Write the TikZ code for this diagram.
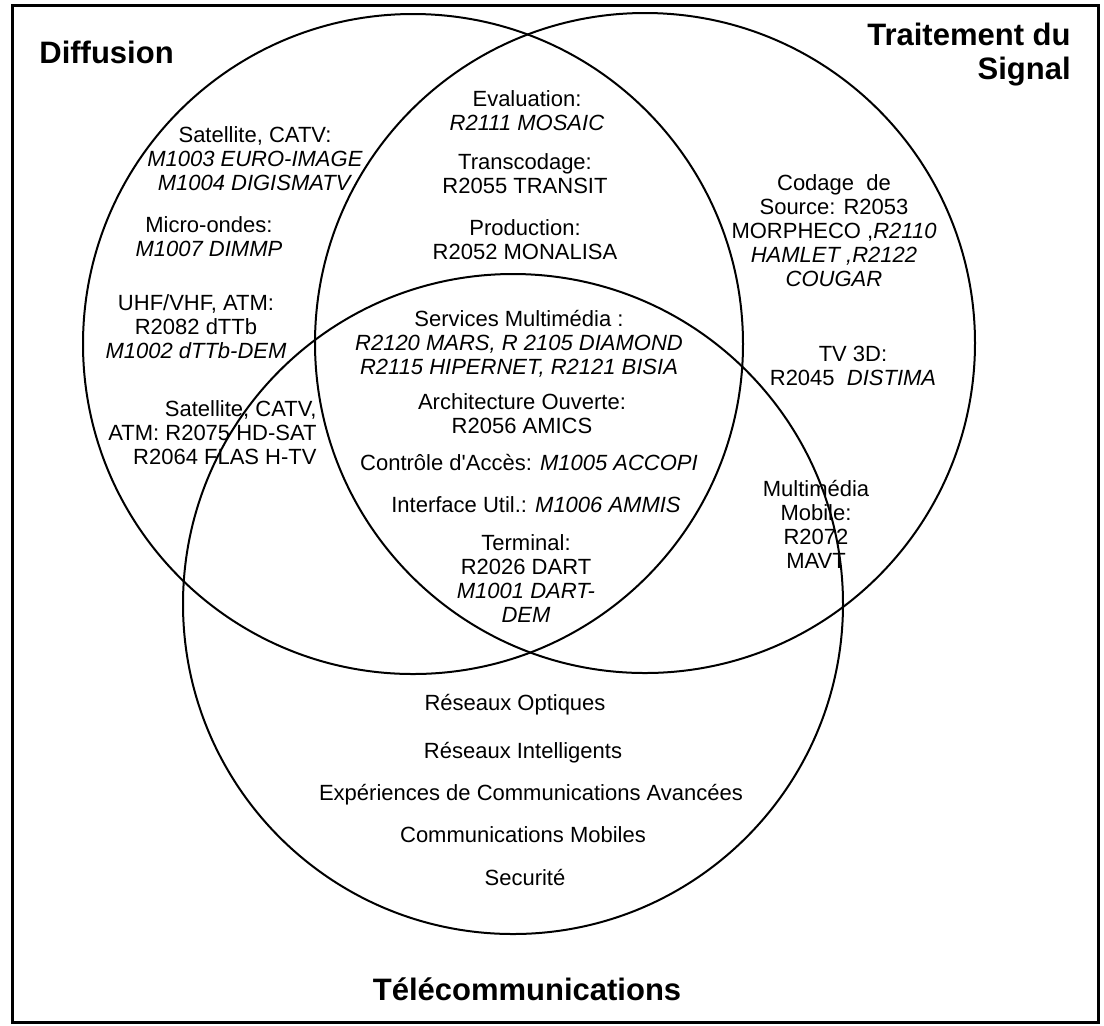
\documentclass[tikz,border=0pt]{standalone}
\usepackage{fontspec}
\setmainfont{Liberation Sans}

\def\ringsize{330pt}
\def\bodysize{\fontsize{11}{12}\selectfont}
\def\headsize{\fontsize{15.5}{17}\selectfont}

\begin{document}
\begin{tikzpicture}[x=0.5pt, y=-0.5pt,
% Here are defined the circles, the frame and the labels parameters
ring/.style={
circle, draw=black, line width=1pt,
minimum size=\ringsize, inner sep=0 },
frame/.style={
draw=black, line width=1.5pt },
entry/.style={
align=center, inner sep=0,
font=\bodysize },
heading/.style={
inner sep=0,
font=\headsize\bfseries },
]

\useasboundingbox (0,0) rectangle (1104,1025);

%%%%%%%%%%%%%%%%%%%%%%%%
%%% DRAW THE CANVAS
%%%%%%%%%%%%%%%%%%%%%%%%

\draw[frame] (12,5) rectangle (1098,1022);

% The 3 circles
\node[ring] (c0) at (413,344) {};
\node[ring] (c1) at (645,343) {};
\node[ring] (c2) at (513,604) {};

% The 3 titles
\node[heading, anchor=west] (h0) at (39,52) {Diffusion};
\node[heading, anchor=east, align=right] (h1) at (1071,55) {Traitement du\\Signal};
\node[heading] (h2) at (527,989) {Télécommunications};

%%%% Diffusion only
\node[entry] (l0) at (255,159) {Satellite, CATV:\\\textit{M1003 EURO-IMAGE}\\\textit{M1004 DIGISMATV}};
\node[entry] (l1) at (209,237) {Micro-ondes:\\\textit{M1007 DIMMP}};
\node[entry] (l2) at (196,327) {UHF/VHF, ATM:\\R2082 dTTb\\\textit{M1002 dTTb-DEM}};
\node[entry, anchor=east, align=right] (l3) at (317,433) {Satellite, CATV,\\ATM: R2075 HD-SAT\\R2064 FLAS H-TV};

%%%% Diffusion and Signal
\node[entry] (s0) at (527,111) {Evaluation:\\\textit{R2111 MOSAIC}};
\node[entry] (s1) at (525,174) {Transcodage:\\R2055 TRANSIT};
\node[entry] (s2) at (525,240) {Production:\\R2052 MONALISA};

%%%% The 3 domains
\node[entry] (m0) at (519,344) {Services Multimédia :\\\textit{R2120 MARS, R 2105 DIAMOND}\\\textit{R2115 HIPERNET, R2121 BISIA}};
\node[entry] (m1) at (522,414) {Architecture Ouverte:\\R2056 AMICS};
\node[entry] (m2) at (529,462) {Contrôle d\textquotesingle Accès: \textit{M1005 ACCOPI}};
\node[entry] (m3) at (536,505) {Interface Util.: \textit{M1006 AMMIS}};
\node[entry] (m4) at (526,579) {Terminal:\\R2026 DART\\\textit{M1001 DART-}\\\textit{DEM}};

%%%% Signal only, then Signal and Telecom
\node[entry] (r0) at (834,231) {Codage\ \ de\\Source: R2053\\MORPHECO ,\textit{R2110}\\\textit{HAMLET ,R2122}\\\textit{COUGAR}};
\node[entry] (r1) at (853,366) {TV 3D:\\R2045\ \ \textit{DISTIMA}};
\node[entry] (r2) at (816,524) {Multimédia\\Mobile:\\R2072\\MAVT};

%%%% Telecom only
\node[entry] (t0) at (515,705) {Réseaux Optiques};
\node[entry] (t1) at (523,753) {Réseaux Intelligents};
\node[entry] (t2) at (531,795) {Expériences de Communications Avancées};
\node[entry] (t3) at (523,835) {Communications Mobiles};
\node[entry] (t4) at (525,877) {Securité};

\end{tikzpicture}
\end{document}
